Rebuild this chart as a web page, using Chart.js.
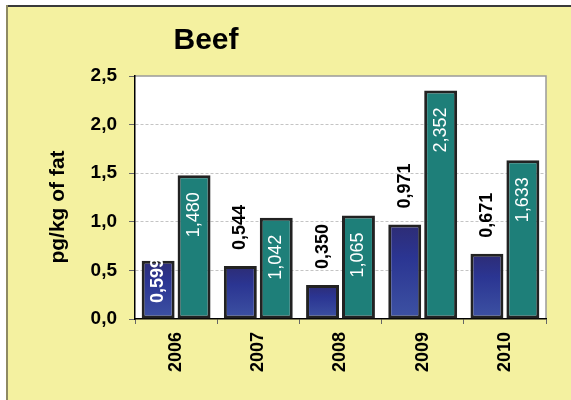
<!DOCTYPE html>
<html>
<head>
<meta charset="utf-8">
<script src="https://cdn.jsdelivr.net/npm/chart.js@4"></script>
<style>
  html, body { margin: 0; padding: 0; background: #fff; }
  canvas { display: block; }
</style>
</head>
<body>
<canvas id="beefChart" width="571" height="400"></canvas>
<script>
// Data
const years = ['2006', '2007', '2008', '2009', '2010'];
const seriesA = [0.599, 0.544, 0.350, 0.971, 0.671];
const seriesB = [1.480, 1.042, 1.065, 2.352, 1.633];
const yTicks = [0, 0.5, 1.0, 1.5, 2.0, 2.5];

const FONT = "'Liberation Sans', Arial, sans-serif";
const fmt = (v, d) => v.toFixed(d).replace('.', ',');

// Blue bars get a vertical gradient per bar (dark on top)
function blueFill(context) {
    const chart = context.chart;
    if (!chart.chartArea || context.type !== 'data') {
        return '#2f3d95';
    }
    const y = chart.scales.y;
    const top = y.getPixelForValue(context.raw);
    const base = y.getPixelForValue(0);
    const g = chart.ctx.createLinearGradient(0, top, 0, base);
    g.addColorStop(0, '#2d2c75');
    g.addColorStop(0.35, '#2b3592');
    g.addColorStop(1, '#3d52a3');
    return g;
}

// Yellow frame + white plot area
const framePlugin = {
    id: 'frame',
    beforeDraw(chart) {
        const ctx = chart.ctx;
        const a = chart.chartArea;
        ctx.save();
        ctx.fillStyle = '#ffffff';
        ctx.fillRect(0, 0, chart.width, chart.height);
        ctx.fillStyle = '#f4f1a0';
        ctx.fillRect(7, 7, chart.width - 7, chart.height - 7);
        ctx.fillStyle = '#3a3a3a';
        ctx.fillRect(6, 5, chart.width - 6, 2);
        ctx.fillStyle = '#8e8a62';
        ctx.fillRect(6, 5, 2, chart.height - 5);

        ctx.fillStyle = '#ffffff';
        ctx.fillRect(a.left, a.top, a.right - a.left, a.bottom - a.top);
        ctx.strokeStyle = '#9a9a9a';
        ctx.lineWidth = 1.5;
        ctx.beginPath();
        ctx.moveTo(a.left, a.top);
        ctx.lineTo(a.right, a.top);
        ctx.lineTo(a.right, a.bottom);
        ctx.stroke();
        ctx.restore();
    },
    afterDraw(chart) {
        const ctx = chart.ctx;
        ctx.save();
        ctx.fillStyle = '#000';
        ctx.font = 'bold 30px ' + FONT;
        ctx.textAlign = 'center';
        ctx.textBaseline = 'alphabetic';
        ctx.fillText('Beef', 206, 49);

        ctx.translate(58, 207);
        ctx.rotate(-Math.PI / 2);
        ctx.font = 'bold 21px ' + FONT;
        ctx.textBaseline = 'middle';
        ctx.fillText('pg/kg of fat', 0, 0);
        ctx.restore();
    }
};

// Rotated value labels
const blueInside = [true, false, false, false, false];
const labelPlugin = {
    id: 'barLabels',
    afterDatasetsDraw(chart) {
        const ctx = chart.ctx;
        const base = chart.scales.y.getPixelForValue(0);
        ctx.save();
        chart.data.datasets.forEach((ds, di) => {
            const meta = chart.getDatasetMeta(di);
            meta.data.forEach((bar, i) => {
                const text = fmt(ds.data[i], 3);
                ctx.save();
                ctx.textBaseline = 'middle';
                if (di === 1) {
                    ctx.font = '18px ' + FONT;
                    ctx.fillStyle = '#ffffff';
                    ctx.translate(bar.x, bar.y + 17);
                    ctx.rotate(-Math.PI / 2);
                    ctx.textAlign = 'right';
                } else if (blueInside[i]) {
                    ctx.font = 'bold 18px ' + FONT;
                    ctx.fillStyle = '#ffffff';
                    ctx.translate(bar.x, base - 16);
                    ctx.rotate(-Math.PI / 2);
                    ctx.textAlign = 'left';
                } else {
                    ctx.font = 'bold 18px ' + FONT;
                    ctx.fillStyle = '#000000';
                    ctx.translate(bar.x, bar.y - 16);
                    ctx.rotate(-Math.PI / 2);
                    ctx.textAlign = 'left';
                }
                ctx.fillText(text, 0, 0);
                ctx.restore();
            });
        });
        ctx.restore();
    }
};

const chart = new Chart(document.getElementById('beefChart').getContext('2d'), {
    type: 'bar',
    data: {
        labels: years,
        datasets: [{
            data: seriesA,
            backgroundColor: blueFill,
            borderColor: '#222222',
            borderWidth: 3,
            borderSkipped: false,
            categoryPercentage: 0.874,
            barPercentage: 0.917
        }, {
            data: seriesB,
            backgroundColor: '#1e7f79',
            borderColor: '#222222',
            borderWidth: 3,
            borderSkipped: false,
            categoryPercentage: 0.874,
            barPercentage: 0.917
        }]
    },
    options: {
        responsive: false,
        maintainAspectRatio: false,
        animation: false,
        layout: { padding: { top: 76, right: 25, left: 0, bottom: 0 } },
        plugins: {
            legend: { display: false },
            tooltip: { enabled: false },
            title: { display: false }
        },
        scales: {
            x: {
                afterFit(scale) { scale.height = 81; },
                grid: {
                    offset: true,
                    drawOnChartArea: false,
                    drawTicks: true,
                    tickLength: 5,
                    tickColor: '#666'
                },
                border: { color: '#000', width: 1.5 },
                ticks: {
                    color: '#000',
                    minRotation: 90,
                    maxRotation: 90,
                    padding: 8,
                    font: { family: FONT, size: 18, weight: 'bold' }
                }
            },
            y: {
                min: 0,
                max: 2.5,
                afterFit(scale) { scale.width = 135; },
                afterBuildTicks(scale) {
                    scale.ticks = yTicks.map(v => ({ value: v }));
                },
                grid: {
                    color: (c) => (c.tick && (c.tick.value === 0 || c.tick.value === 2.5)) ? 'rgba(0,0,0,0)' : '#c4c4c4',
                    tickColor: '#666',
                    tickLength: 6,
                    tickBorderDash: []
                },
                border: { color: '#000', width: 1.5, dash: [3, 2] },
                ticks: {
                    color: '#000',
                    padding: 12,
                    font: { family: FONT, size: 19, weight: 'bold' },
                    callback: (v) => fmt(v, 1)
                }
            }
        }
    },
    plugins: [framePlugin, labelPlugin]
});
</script>
</body>
</html>
